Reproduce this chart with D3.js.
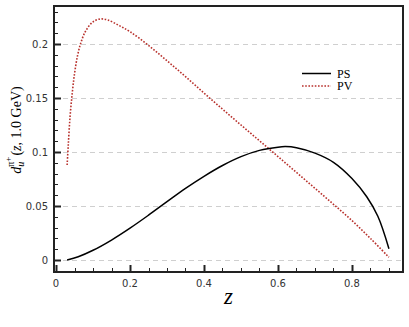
<!DOCTYPE html>
<html>
<head>
<meta charset="utf-8">
<script src="https://cdn.jsdelivr.net/npm/d3@7"></script>
<style>
  body { margin: 0; background: #fff; }
  svg { display: block; }
</style>
</head>
<body>
<div id="chart"></div>
<script>
// Data
const psZ = [0.03, 0.06, 0.1, 0.15, 0.2, 0.25, 0.3, 0.35, 0.4, 0.45, 0.5, 0.55, 0.6, 0.62, 0.65, 0.7, 0.75, 0.8, 0.84, 0.87, 0.9]
const psV = [0, 0.003, 0.009, 0.0185, 0.0295, 0.0415, 0.054, 0.0663, 0.0775, 0.0875, 0.0957, 0.1015, 0.1045, 0.105, 0.104, 0.099, 0.0905, 0.0755, 0.0586, 0.0405, 0.0105]

const pvZ = [0.03, 0.033, 0.038, 0.044, 0.05, 0.058, 0.067, 0.08, 0.1, 0.12, 0.14, 0.17, 0.2, 0.25, 0.3, 0.35, 0.4, 0.45, 0.5, 0.55, 0.6, 0.65, 0.7, 0.75, 0.8, 0.85, 0.9]
const pvV = [0.088, 0.106, 0.133, 0.155, 0.1725, 0.189, 0.201, 0.212, 0.2205, 0.2232, 0.2222, 0.2172, 0.2114, 0.1987, 0.1845, 0.1698, 0.1546, 0.1397, 0.125, 0.1104, 0.0958, 0.0811, 0.0664, 0.0516, 0.0365, 0.02, 0.0025]

const xTicks = [0, 0.2, 0.4, 0.6, 0.8]
const yTicks = [0, 0.05, 0.1, 0.15, 0.2]
const legendNames = ['PS', 'PV']

// Dimensions
const width = 409, height = 327
const plot = { left: 54, top: 6, right: 403, bottom: 272 }

const svg = d3.select('#chart').append('svg')
  .attr('width', width)
  .attr('height', height)

// Scales
const x = d3.scaleLinear().domain([-0.0055, 0.938]).range([plot.left, plot.right])
const y = d3.scaleLinear().domain([-0.0111, 0.2352]).range([plot.bottom, plot.top])

// grid
svg.append('g').selectAll('line')
  .data(yTicks)
  .join('line')
  .attr('x1', plot.left).attr('x2', plot.right)
  .attr('y1', d => Math.round(y(d)) + 0.5).attr('y2', d => Math.round(y(d)) + 0.5)
  .attr('stroke', '#cfcfcf')
  .attr('stroke-dasharray', '5,4')

// ticks (major + minor, pointing inwards)
const isMult = (d, step) => Math.abs(d / step - Math.round(d / step)) < 1e-6
const yMinor = d3.range(-0.01, 0.2351, 0.01)
const xMinor = d3.range(0, 0.93, 0.05)
const tickG = svg.append('g').attr('stroke', '#222')
tickG.selectAll('.ym')
  .data(yMinor)
  .join('line')
  .attr('x1', plot.left).attr('x2', d => plot.left + (isMult(d, 0.05) ? 7 : 4))
  .attr('y1', d => Math.round(y(d)) + 0.5).attr('y2', d => Math.round(y(d)) + 0.5)
  .attr('stroke-width', d => (isMult(d, 0.05) ? 2 : 1))
tickG.selectAll('.xm')
  .data(xMinor)
  .join('line')
  .attr('x1', d => Math.round(x(d)) + 0.5).attr('x2', d => Math.round(x(d)) + 0.5)
  .attr('y1', plot.bottom).attr('y2', d => plot.bottom - (isMult(d, 0.2) ? 7 : 4))
  .attr('stroke-width', d => (isMult(d, 0.2) ? 2 : 1))

// curves
const line = d3.line().curve(d3.curveCatmullRom.alpha(0.5))
const psPts = psZ.map((z, i) => [x(z), y(psV[i])])
const pvPts = pvZ.map((z, i) => [x(z), y(pvV[i])])

svg.append('path')
  .attr('d', line(pvPts))
  .attr('fill', 'none')
  .attr('stroke', '#b8312c')
  .attr('stroke-width', 1.6)
  .attr('stroke-dasharray', '1.6,1.6')

svg.append('path')
  .attr('d', line(psPts))
  .attr('fill', 'none')
  .attr('stroke', '#000')
  .attr('stroke-width', 1.5)

// frame
svg.append('rect')
  .attr('x', plot.left).attr('y', plot.top)
  .attr('width', plot.right - plot.left).attr('height', plot.bottom - plot.top)
  .attr('fill', 'none')
  .attr('stroke', '#222')
  .attr('stroke-width', 2)

// tick labels
svg.append('g').selectAll('text')
  .data(yTicks)
  .join('text')
  .attr('x', 48)
  .attr('y', d => y(d) + 3.5)
  .attr('text-anchor', 'end')
  .attr('font-family', 'DejaVu Sans, sans-serif')
  .attr('font-size', 10)
  .attr('fill', '#333')
  .text(d => d)

svg.append('g').selectAll('text')
  .data(xTicks)
  .join('text')
  .attr('x', d => x(d))
  .attr('y', 287)
  .attr('text-anchor', 'middle')
  .attr('font-family', 'DejaVu Sans, sans-serif')
  .attr('font-size', 10)
  .attr('fill', '#333')
  .text(d => d)

// axis titles
svg.append('text')
  .attr('x', (plot.left + plot.right) / 2)
  .attr('y', 304)
  .attr('text-anchor', 'middle')
  .attr('font-family', 'Liberation Serif, serif')
  .attr('font-style', 'italic')
  .attr('font-size', 23)
  .text('z')

const yl = svg.append('text')
  .attr('transform', 'translate(21,130) rotate(-90)')
  .attr('text-anchor', 'middle')
  .attr('font-family', 'Liberation Serif, serif')
  .attr('font-size', 14)
yl.append('tspan').attr('font-style', 'italic').text('d')
yl.append('tspan').attr('font-style', 'italic').attr('font-size', 10).attr('dy', 3).text('u')
yl.append('tspan').attr('font-size', 10).attr('dy', -10).attr('dx', -5).text('π')
yl.append('tspan').attr('font-size', 9).attr('dy', -3).text('+')
yl.append('tspan').attr('dy', 10).attr('dx', 1).text('(')
yl.append('tspan').attr('font-style', 'italic').text('z')
yl.append('tspan').text(', 1.0 GeV)')

// legend
const legend = svg.append('g')
legend.selectAll('line')
  .data(legendNames)
  .join('line')
  .attr('x1', 302).attr('x2', 331)
  .attr('y1', (d, i) => 73.5 + i * 12.5).attr('y2', (d, i) => 73.5 + i * 12.5)
  .attr('stroke', (d, i) => i ? '#b8312c' : '#000')
  .attr('stroke-width', 1.5)
  .attr('stroke-dasharray', (d, i) => i ? '1.6,1.6' : null)
legend.selectAll('text')
  .data(legendNames)
  .join('text')
  .attr('x', 337)
  .attr('y', (d, i) => 77.5 + i * 12.5)
  .attr('font-family', 'Liberation Serif, serif')
  .attr('font-size', 12)
  .text(d => d)
</script>
</body>
</html>
